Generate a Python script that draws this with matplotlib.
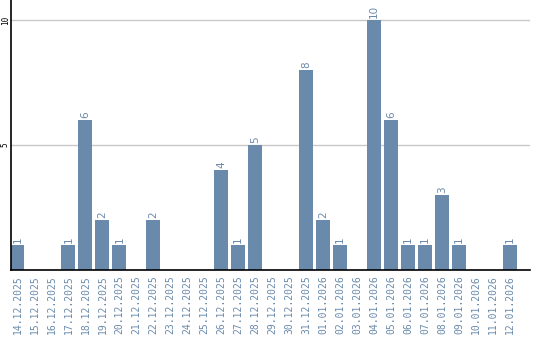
import matplotlib
matplotlib.use("Agg")
import matplotlib.pyplot as plt

# daily counts
dates = ["14.12.2025", "15.12.2025", "16.12.2025", "17.12.2025", "18.12.2025",
         "19.12.2025", "20.12.2025", "21.12.2025", "22.12.2025", "23.12.2025",
         "24.12.2025", "25.12.2025", "26.12.2025", "27.12.2025", "28.12.2025",
         "29.12.2025", "30.12.2025", "31.12.2025", "01.01.2026", "02.01.2026",
         "03.01.2026", "04.01.2026", "05.01.2026", "06.01.2026", "07.01.2026",
         "08.01.2026", "09.01.2026", "10.01.2026", "11.01.2026", "12.01.2026"]
counts = [1, 0, 0, 1, 6, 2, 1, 0, 2, 0, 0, 0, 4, 1, 5, 0, 0, 8, 2, 1,
          0, 10, 6, 1, 1, 3, 1, 0, 0, 1]
yticks = [5, 10]

bar_color = "#6a8aab"
label_color = "#6a8aab"

fig = plt.figure(figsize=(5.4, 3.4), dpi=100)
ax = fig.add_axes([10.5 / 540, 70 / 340, 519.5 / 540, 270 / 340])

x = list(range(len(dates)))
ax.bar(x, counts, width=0.82, color=bar_color, zorder=2)

for xi, c in zip(x, counts):
    if c > 0:
        ax.text(xi, c + 0.08, str(c), rotation=90, ha="center", va="bottom",
                fontsize=7.5, color=label_color, family="DejaVu Sans")

ax.set_xlim(-0.41, 30.18)
ax.set_ylim(0, 10.8)

ax.set_yticks(yticks)
ax.set_yticklabels([str(t) for t in yticks], rotation=90, va="center",
                   fontsize=5.5, color="black", family="DejaVu Sans Mono")
ax.tick_params(axis="y", length=0, pad=0.5)
ax.yaxis.grid(True, color="#c8c8c8", linewidth=1, zorder=0)

ax.set_xticks(x)
ax.set_xticklabels(dates, rotation=90, fontsize=7, color=label_color,
                   family="DejaVu Sans Mono")
ax.tick_params(axis="x", length=0, pad=4)

for side in ["top", "right"]:
    ax.spines[side].set_visible(False)
ax.spines["left"].set_color("black")
ax.spines["bottom"].set_color("black")
ax.spines["left"].set_linewidth(1.2)
ax.spines["bottom"].set_linewidth(1.2)

fig.savefig("out.png", dpi=100)
